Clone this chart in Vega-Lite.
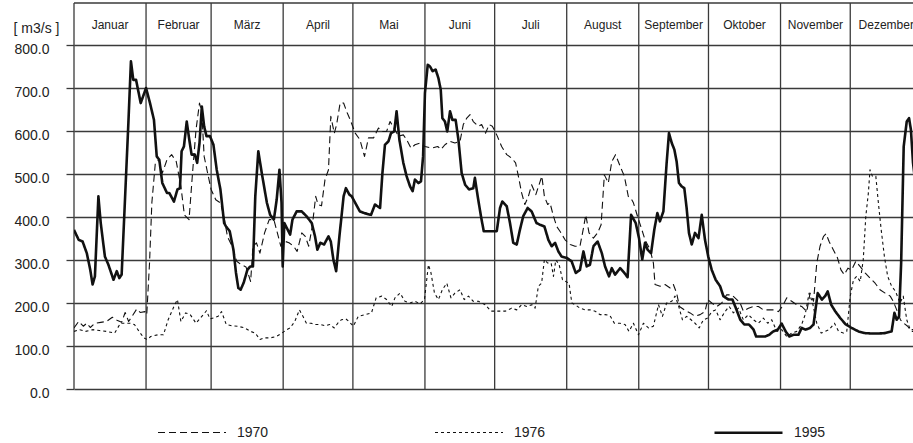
{
"$schema":"https://vega.github.io/schema/vega-lite/v6.json",
"width":839,"height":386,
"autosize":{"type":"none"},
"padding":{"left":74,"top":3,"right":0,"bottom":54},
"background":"white",
"config":{"view":{"stroke":null},"font":"Liberation Sans"},
"resolve":{"axis":{"y":"independent","x":"independent"}},
"layer":[
{"data":{"values":[{"d":0},{"d":31},{"d":59},{"d":90},{"d":120},{"d":151},{"d":181},{"d":212},{"d":243},{"d":273},{"d":304},{"d":334}]},
 "mark":{"type":"rule","color":"#3a3a3a","strokeWidth":1.3},
 "encoding":{"x":{"field":"d","type":"quantitative","scale":{"domain":[0,361],"nice":false,"zero":false},"axis":null}}},
{"data":{"values":[{"v":897.7}]},
 "mark":{"type":"rule","color":"#3a3a3a","strokeWidth":1.3},
 "encoding":{"y":{"field":"v","type":"quantitative","scale":{"domain":[0,897.7],"nice":false},"axis":null}}},
{"data":{"values":[{"m":"Januar","d":15.5},{"m":"Februar","d":45},{"m":"März","d":74.5},{"m":"April","d":105},{"m":"Mai","d":135.5},{"m":"Juni","d":166},{"m":"Juli","d":196.5},{"m":"August","d":227.5},{"m":"September","d":258},{"m":"Oktober","d":288.5},{"m":"November","d":319},{"m":"Dezember","d":349.5}]},
 "mark":{"type":"text","fontSize":12,"color":"#222","font":"Liberation Sans","baseline":"middle","align":"center"},
 "encoding":{"x":{"field":"d","type":"quantitative","scale":{"domain":[0,361],"nice":false,"zero":false},"axis":null},
  "y":{"datum":846.5,"type":"quantitative","scale":{"domain":[0,897.7],"nice":false},"axis":null},
  "text":{"field":"m","type":"nominal"}}},
{"data":{"values":[
{"s":"1995","d":0,"v":370},{"s":"1995","d":2,"v":347},{"s":"1995","d":3.7,"v":343},{"s":"1995","d":5.5,"v":316},{"s":"1995","d":7,"v":277},{"s":"1995","d":8,"v":243},{"s":"1995","d":9,"v":262},{"s":"1995","d":10.5,"v":448},{"s":"1995","d":11.5,"v":386},{"s":"1995","d":13.3,"v":308},{"s":"1995","d":14.8,"v":289},{"s":"1995","d":17,"v":254},{"s":"1995","d":18.4,"v":274},{"s":"1995","d":19.5,"v":258},{"s":"1995","d":20.5,"v":266},{"s":"1995","d":22,"v":448},{"s":"1995","d":23.4,"v":619},{"s":"1995","d":24.5,"v":762},{"s":"1995","d":25.5,"v":719},{"s":"1995","d":26.7,"v":719},{"s":"1995","d":28.7,"v":665},{"s":"1995","d":31,"v":700},{"s":"1995","d":32.7,"v":665},{"s":"1995","d":34.4,"v":626},{"s":"1995","d":35.6,"v":541},{"s":"1995","d":36.7,"v":533},{"s":"1995","d":38,"v":479},{"s":"1995","d":40,"v":456},{"s":"1995","d":41,"v":456},{"s":"1995","d":43,"v":436},{"s":"1995","d":44.5,"v":464},{"s":"1995","d":45.6,"v":467},{"s":"1995","d":46.3,"v":553},{"s":"1995","d":47.3,"v":564},{"s":"1995","d":48.5,"v":622},{"s":"1995","d":49.6,"v":580},{"s":"1995","d":50.6,"v":545},{"s":"1995","d":52,"v":545},{"s":"1995","d":53,"v":526},{"s":"1995","d":54,"v":572},{"s":"1995","d":55,"v":657},{"s":"1995","d":56,"v":611},{"s":"1995","d":57,"v":588},{"s":"1995","d":58.5,"v":588},{"s":"1995","d":60,"v":568},{"s":"1995","d":61.4,"v":510},{"s":"1995","d":63,"v":464},{"s":"1995","d":64.6,"v":386},{"s":"1995","d":65.4,"v":378},{"s":"1995","d":67,"v":367},{"s":"1995","d":68.6,"v":324},{"s":"1995","d":69.7,"v":270},{"s":"1995","d":70.7,"v":235},{"s":"1995","d":71.7,"v":231},{"s":"1995","d":73,"v":247},{"s":"1995","d":74.6,"v":277},{"s":"1995","d":75.8,"v":285},{"s":"1995","d":77,"v":285},{"s":"1995","d":78,"v":448},{"s":"1995","d":79.3,"v":553},{"s":"1995","d":80.8,"v":502},{"s":"1995","d":83,"v":433},{"s":"1995","d":84.4,"v":405},{"s":"1995","d":86,"v":394},{"s":"1995","d":87.2,"v":440},{"s":"1995","d":88.4,"v":510},{"s":"1995","d":89.3,"v":433},{"s":"1995","d":89.8,"v":285},{"s":"1995","d":90.5,"v":386},{"s":"1995","d":93,"v":359},{"s":"1995","d":94,"v":394},{"s":"1995","d":95.8,"v":413},{"s":"1995","d":98,"v":413},{"s":"1995","d":100,"v":402},{"s":"1995","d":102.3,"v":386},{"s":"1995","d":103.7,"v":355},{"s":"1995","d":104.7,"v":324},{"s":"1995","d":106,"v":340},{"s":"1995","d":107.6,"v":336},{"s":"1995","d":109.5,"v":355},{"s":"1995","d":110.5,"v":343},{"s":"1995","d":111.6,"v":301},{"s":"1995","d":112.8,"v":274},{"s":"1995","d":114.2,"v":355},{"s":"1995","d":116,"v":448},{"s":"1995","d":117,"v":467},{"s":"1995","d":118.5,"v":452},{"s":"1995","d":119.5,"v":448},{"s":"1995","d":121,"v":433},{"s":"1995","d":123,"v":413},{"s":"1995","d":125,"v":409},{"s":"1995","d":127.8,"v":405},{"s":"1995","d":129.5,"v":429},{"s":"1995","d":131.7,"v":421},{"s":"1995","d":132.7,"v":502},{"s":"1995","d":133.8,"v":568},{"s":"1995","d":135.3,"v":576},{"s":"1995","d":136.4,"v":595},{"s":"1995","d":137.8,"v":599},{"s":"1995","d":138.8,"v":646},{"s":"1995","d":140,"v":580},{"s":"1995","d":141.7,"v":526},{"s":"1995","d":143.1,"v":495},{"s":"1995","d":144.6,"v":471},{"s":"1995","d":145.7,"v":460},{"s":"1995","d":146.7,"v":487},{"s":"1995","d":148.2,"v":479},{"s":"1995","d":149.3,"v":483},{"s":"1995","d":150.2,"v":541},{"s":"1995","d":151,"v":688},{"s":"1995","d":152.2,"v":754},{"s":"1995","d":153.2,"v":750},{"s":"1995","d":154.3,"v":739},{"s":"1995","d":155.6,"v":743},{"s":"1995","d":156.8,"v":723},{"s":"1995","d":157.8,"v":696},{"s":"1995","d":158.5,"v":630},{"s":"1995","d":159.6,"v":622},{"s":"1995","d":160.6,"v":599},{"s":"1995","d":161.8,"v":646},{"s":"1995","d":162.8,"v":626},{"s":"1995","d":164.2,"v":626},{"s":"1995","d":165.4,"v":580},{"s":"1995","d":166.8,"v":502},{"s":"1995","d":168.3,"v":475},{"s":"1995","d":170,"v":464},{"s":"1995","d":171.8,"v":467},{"s":"1995","d":172.5,"v":491},{"s":"1995","d":173.7,"v":448},{"s":"1995","d":175.1,"v":402},{"s":"1995","d":176.3,"v":367},{"s":"1995","d":178.3,"v":367},{"s":"1995","d":181.9,"v":367},{"s":"1995","d":183.3,"v":421},{"s":"1995","d":184.3,"v":436},{"s":"1995","d":186.2,"v":425},{"s":"1995","d":187.6,"v":386},{"s":"1995","d":189,"v":340},{"s":"1995","d":190.5,"v":336},{"s":"1995","d":191.9,"v":371},{"s":"1995","d":193.3,"v":402},{"s":"1995","d":195.2,"v":421},{"s":"1995","d":196.9,"v":413},{"s":"1995","d":199,"v":386},{"s":"1995","d":200.5,"v":382},{"s":"1995","d":202.4,"v":378},{"s":"1995","d":204.1,"v":347},{"s":"1995","d":205.5,"v":332},{"s":"1995","d":207,"v":340},{"s":"1995","d":208.4,"v":320},{"s":"1995","d":209.8,"v":308},{"s":"1995","d":212,"v":305},{"s":"1995","d":214.1,"v":297},{"s":"1995","d":215.9,"v":270},{"s":"1995","d":217.7,"v":277},{"s":"1995","d":219.2,"v":320},{"s":"1995","d":220.6,"v":285},{"s":"1995","d":222,"v":289},{"s":"1995","d":223.5,"v":332},{"s":"1995","d":225.3,"v":343},{"s":"1995","d":227.1,"v":316},{"s":"1995","d":228.5,"v":285},{"s":"1995","d":230.2,"v":262},{"s":"1995","d":231.4,"v":281},{"s":"1995","d":232.8,"v":266},{"s":"1995","d":235,"v":281},{"s":"1995","d":236.8,"v":270},{"s":"1995","d":238.2,"v":260},{"s":"1995","d":239.7,"v":405},{"s":"1995","d":241.7,"v":386},{"s":"1995","d":243.1,"v":351},{"s":"1995","d":244.5,"v":301},{"s":"1995","d":245.7,"v":340},{"s":"1995","d":246.8,"v":324},{"s":"1995","d":248.3,"v":316},{"s":"1995","d":249.7,"v":371},{"s":"1995","d":251,"v":409},{"s":"1995","d":252.1,"v":390},{"s":"1995","d":253.6,"v":413},{"s":"1995","d":255,"v":526},{"s":"1995","d":256,"v":595},{"s":"1995","d":257.2,"v":572},{"s":"1995","d":258.3,"v":557},{"s":"1995","d":259.3,"v":529},{"s":"1995","d":260.3,"v":479},{"s":"1995","d":261.5,"v":471},{"s":"1995","d":262.6,"v":467},{"s":"1995","d":263.6,"v":421},{"s":"1995","d":264.6,"v":363},{"s":"1995","d":265.8,"v":336},{"s":"1995","d":267.2,"v":363},{"s":"1995","d":268.7,"v":351},{"s":"1995","d":270.1,"v":405},{"s":"1995","d":271.5,"v":347},{"s":"1995","d":272.9,"v":308},{"s":"1995","d":274.4,"v":277},{"s":"1995","d":276.1,"v":254},{"s":"1995","d":278,"v":239},{"s":"1995","d":279.4,"v":216},{"s":"1995","d":281.6,"v":208},{"s":"1995","d":283.3,"v":208},{"s":"1995","d":284.8,"v":188},{"s":"1995","d":286.7,"v":161},{"s":"1995","d":288.4,"v":150},{"s":"1995","d":290.4,"v":150},{"s":"1995","d":292.4,"v":138},{"s":"1995","d":293.5,"v":122},{"s":"1995","d":295.2,"v":122},{"s":"1995","d":297.3,"v":122},{"s":"1995","d":299.1,"v":126},{"s":"1995","d":300.9,"v":134},{"s":"1995","d":302.8,"v":138},{"s":"1995","d":304.5,"v":152},{"s":"1995","d":306.2,"v":134},{"s":"1995","d":307.8,"v":122},{"s":"1995","d":309.5,"v":126},{"s":"1995","d":311.7,"v":126},{"s":"1995","d":313.1,"v":142},{"s":"1995","d":314.8,"v":138},{"s":"1995","d":316.7,"v":142},{"s":"1995","d":318.2,"v":150},{"s":"1995","d":320,"v":223},{"s":"1995","d":321.8,"v":208},{"s":"1995","d":323.2,"v":216},{"s":"1995","d":324.3,"v":227},{"s":"1995","d":325.8,"v":196},{"s":"1995","d":327.5,"v":181},{"s":"1995","d":329.7,"v":165},{"s":"1995","d":332.1,"v":150},{"s":"1995","d":334.6,"v":142},{"s":"1995","d":337.5,"v":134},{"s":"1995","d":340.4,"v":130},{"s":"1995","d":343.3,"v":129},{"s":"1995","d":346.1,"v":129},{"s":"1995","d":349,"v":130},{"s":"1995","d":351.8,"v":134},{"s":"1995","d":353,"v":177},{"s":"1995","d":354,"v":161},{"s":"1995","d":355,"v":169},{"s":"1995","d":355.9,"v":293},{"s":"1995","d":357,"v":564},{"s":"1995","d":358.3,"v":622},{"s":"1995","d":359.3,"v":630},{"s":"1995","d":360.1,"v":603},{"s":"1995","d":361,"v":526},{"s":"1995","d":362,"v":480},
{"s":"1970","d":0,"v":142},{"s":"1970","d":2,"v":157},{"s":"1970","d":4,"v":146},{"s":"1970","d":5.5,"v":153},{"s":"1970","d":7,"v":143},{"s":"1970","d":9,"v":153},{"s":"1970","d":11.5,"v":155},{"s":"1970","d":14,"v":157},{"s":"1970","d":16.5,"v":167},{"s":"1970","d":18.5,"v":160},{"s":"1970","d":20.5,"v":155},{"s":"1970","d":22,"v":178},{"s":"1970","d":23.5,"v":157},{"s":"1970","d":25,"v":169},{"s":"1970","d":27,"v":186},{"s":"1970","d":28.5,"v":178},{"s":"1970","d":30.5,"v":180},{"s":"1970","d":31.3,"v":173},{"s":"1970","d":32.5,"v":293},{"s":"1970","d":33.5,"v":433},{"s":"1970","d":35,"v":526},{"s":"1970","d":36.5,"v":533},{"s":"1970","d":38,"v":502},{"s":"1970","d":40,"v":533},{"s":"1970","d":42,"v":545},{"s":"1970","d":44,"v":529},{"s":"1970","d":46,"v":471},{"s":"1970","d":47.5,"v":405},{"s":"1970","d":49.5,"v":394},{"s":"1970","d":51,"v":502},{"s":"1970","d":52.5,"v":603},{"s":"1970","d":54,"v":665},{"s":"1970","d":55,"v":643},{"s":"1970","d":56,"v":541},{"s":"1970","d":57.5,"v":502},{"s":"1970","d":59,"v":464},{"s":"1970","d":61,"v":440},{"s":"1970","d":63,"v":433},{"s":"1970","d":64.5,"v":402},{"s":"1970","d":66,"v":355},{"s":"1970","d":68,"v":332},{"s":"1970","d":70,"v":297},{"s":"1970","d":72,"v":289},{"s":"1970","d":74,"v":284},{"s":"1970","d":76,"v":250},{"s":"1970","d":77,"v":332},{"s":"1970","d":78.5,"v":340},{"s":"1970","d":80,"v":316},{"s":"1970","d":82,"v":363},{"s":"1970","d":84,"v":394},{"s":"1970","d":86,"v":394},{"s":"1970","d":87.5,"v":363},{"s":"1970","d":89,"v":332},{"s":"1970","d":91,"v":343},{"s":"1970","d":92.5,"v":340},{"s":"1970","d":94.5,"v":332},{"s":"1970","d":96,"v":320},{"s":"1970","d":98,"v":363},{"s":"1970","d":99.5,"v":355},{"s":"1970","d":101,"v":332},{"s":"1970","d":102.5,"v":378},{"s":"1970","d":104,"v":448},{"s":"1970","d":105,"v":429},{"s":"1970","d":106.5,"v":426},{"s":"1970","d":108,"v":487},{"s":"1970","d":109.5,"v":510},{"s":"1970","d":110.5,"v":634},{"s":"1970","d":112,"v":595},{"s":"1970","d":113,"v":615},{"s":"1970","d":114.5,"v":665},{"s":"1970","d":116,"v":665},{"s":"1970","d":117.5,"v":643},{"s":"1970","d":119,"v":624},{"s":"1970","d":121,"v":595},{"s":"1970","d":123,"v":580},{"s":"1970","d":125,"v":541},{"s":"1970","d":126.7,"v":584},{"s":"1970","d":128.9,"v":584},{"s":"1970","d":131,"v":607},{"s":"1970","d":132.7,"v":599},{"s":"1970","d":134.5,"v":599},{"s":"1970","d":136,"v":622},{"s":"1970","d":138.1,"v":603},{"s":"1970","d":139.6,"v":588},{"s":"1970","d":141.7,"v":591},{"s":"1970","d":143.1,"v":580},{"s":"1970","d":145,"v":560},{"s":"1970","d":146.7,"v":568},{"s":"1970","d":148.9,"v":572},{"s":"1970","d":151,"v":564},{"s":"1970","d":153.9,"v":560},{"s":"1970","d":156.5,"v":564},{"s":"1970","d":157.9,"v":557},{"s":"1970","d":159.6,"v":568},{"s":"1970","d":161.8,"v":576},{"s":"1970","d":163.9,"v":572},{"s":"1970","d":166.1,"v":576},{"s":"1970","d":167.5,"v":615},{"s":"1970","d":169,"v":630},{"s":"1970","d":170.4,"v":638},{"s":"1970","d":171.8,"v":622},{"s":"1970","d":174,"v":611},{"s":"1970","d":175.4,"v":615},{"s":"1970","d":177.1,"v":595},{"s":"1970","d":178.6,"v":615},{"s":"1970","d":180,"v":611},{"s":"1970","d":181.9,"v":591},{"s":"1970","d":184,"v":564},{"s":"1970","d":186.2,"v":545},{"s":"1970","d":188.3,"v":537},{"s":"1970","d":190,"v":526},{"s":"1970","d":191.2,"v":495},{"s":"1970","d":192.6,"v":456},{"s":"1970","d":194,"v":429},{"s":"1970","d":195.5,"v":448},{"s":"1970","d":196.9,"v":475},{"s":"1970","d":198.7,"v":452},{"s":"1970","d":200.1,"v":475},{"s":"1970","d":201.3,"v":495},{"s":"1970","d":202.4,"v":448},{"s":"1970","d":203.8,"v":429},{"s":"1970","d":204.8,"v":433},{"s":"1970","d":206.3,"v":402},{"s":"1970","d":207.7,"v":378},{"s":"1970","d":209.1,"v":367},{"s":"1970","d":211.3,"v":347},{"s":"1970","d":213.5,"v":336},{"s":"1970","d":215.6,"v":332},{"s":"1970","d":217.7,"v":332},{"s":"1970","d":219.2,"v":374},{"s":"1970","d":220.2,"v":405},{"s":"1970","d":221.6,"v":363},{"s":"1970","d":223.5,"v":351},{"s":"1970","d":225.3,"v":363},{"s":"1970","d":226.8,"v":382},{"s":"1970","d":228.2,"v":498},{"s":"1970","d":229.9,"v":479},{"s":"1970","d":231.4,"v":529},{"s":"1970","d":233,"v":545},{"s":"1970","d":235,"v":518},{"s":"1970","d":236.8,"v":495},{"s":"1970","d":238.5,"v":448},{"s":"1970","d":240,"v":440},{"s":"1970","d":240.7,"v":433},{"s":"1970","d":242.9,"v":394},{"s":"1970","d":244.3,"v":371},{"s":"1970","d":245.7,"v":347},{"s":"1970","d":247.9,"v":324},{"s":"1970","d":249.3,"v":293},{"s":"1970","d":250,"v":243},{"s":"1970","d":252.2,"v":239},{"s":"1970","d":254.3,"v":243},{"s":"1970","d":256.5,"v":235},{"s":"1970","d":257.9,"v":243},{"s":"1970","d":259.3,"v":223},{"s":"1970","d":260.5,"v":192},{"s":"1970","d":262.6,"v":184},{"s":"1970","d":265.1,"v":177},{"s":"1970","d":267.2,"v":169},{"s":"1970","d":269.4,"v":173},{"s":"1970","d":271.5,"v":180},{"s":"1970","d":272.7,"v":208},{"s":"1970","d":274.4,"v":200},{"s":"1970","d":276.6,"v":192},{"s":"1970","d":278.7,"v":200},{"s":"1970","d":280.8,"v":219},{"s":"1970","d":283,"v":219},{"s":"1970","d":285.2,"v":208},{"s":"1970","d":286.6,"v":200},{"s":"1970","d":288,"v":181},{"s":"1970","d":290.2,"v":188},{"s":"1970","d":292.3,"v":192},{"s":"1970","d":294.5,"v":192},{"s":"1970","d":296.6,"v":184},{"s":"1970","d":298.8,"v":184},{"s":"1970","d":301,"v":184},{"s":"1970","d":303.1,"v":180},{"s":"1970","d":304.8,"v":192},{"s":"1970","d":306.7,"v":212},{"s":"1970","d":308.8,"v":204},{"s":"1970","d":311,"v":196},{"s":"1970","d":313.1,"v":192},{"s":"1970","d":315.3,"v":180},{"s":"1970","d":316.7,"v":223},{"s":"1970","d":318.2,"v":204},{"s":"1970","d":319.6,"v":293},{"s":"1970","d":321,"v":332},{"s":"1970","d":322.5,"v":355},{"s":"1970","d":323.6,"v":361},{"s":"1970","d":324.9,"v":343},{"s":"1970","d":326.7,"v":324},{"s":"1970","d":328.5,"v":305},{"s":"1970","d":330,"v":277},{"s":"1970","d":331.4,"v":266},{"s":"1970","d":333,"v":281},{"s":"1970","d":334.6,"v":277},{"s":"1970","d":336.4,"v":297},{"s":"1970","d":338.2,"v":285},{"s":"1970","d":340.4,"v":270},{"s":"1970","d":342.5,"v":258},{"s":"1970","d":344.7,"v":246},{"s":"1970","d":346.8,"v":231},{"s":"1970","d":349,"v":223},{"s":"1970","d":351.2,"v":216},{"s":"1970","d":352.5,"v":204},{"s":"1970","d":354,"v":184},{"s":"1970","d":355.6,"v":161},{"s":"1970","d":357,"v":153},{"s":"1970","d":358.7,"v":146},{"s":"1970","d":360.3,"v":134},{"s":"1970","d":362,"v":134},
{"s":"1976","d":0,"v":134},{"s":"1976","d":2.5,"v":138},{"s":"1976","d":5,"v":134},{"s":"1976","d":8,"v":138},{"s":"1976","d":11,"v":136},{"s":"1976","d":14,"v":134},{"s":"1976","d":17.5,"v":130},{"s":"1976","d":20,"v":153},{"s":"1976","d":24,"v":153},{"s":"1976","d":26,"v":150},{"s":"1976","d":28,"v":134},{"s":"1976","d":30,"v":119},{"s":"1976","d":31.5,"v":115},{"s":"1976","d":33,"v":122},{"s":"1976","d":36,"v":126},{"s":"1976","d":38.5,"v":126},{"s":"1976","d":40.5,"v":161},{"s":"1976","d":43,"v":192},{"s":"1976","d":44.5,"v":208},{"s":"1976","d":46,"v":157},{"s":"1976","d":48,"v":177},{"s":"1976","d":50,"v":173},{"s":"1976","d":52.5,"v":153},{"s":"1976","d":55,"v":169},{"s":"1976","d":57,"v":182},{"s":"1976","d":58.5,"v":163},{"s":"1976","d":60,"v":165},{"s":"1976","d":62,"v":169},{"s":"1976","d":63.5,"v":180},{"s":"1976","d":65.5,"v":150},{"s":"1976","d":68,"v":147},{"s":"1976","d":70.5,"v":146},{"s":"1976","d":73.5,"v":142},{"s":"1976","d":76,"v":134},{"s":"1976","d":78,"v":130},{"s":"1976","d":80,"v":115},{"s":"1976","d":82,"v":119},{"s":"1976","d":84.5,"v":119},{"s":"1976","d":87,"v":122},{"s":"1976","d":89.5,"v":130},{"s":"1976","d":91.5,"v":138},{"s":"1976","d":93,"v":142},{"s":"1976","d":95,"v":157},{"s":"1976","d":97,"v":184},{"s":"1976","d":98.5,"v":169},{"s":"1976","d":100,"v":153},{"s":"1976","d":102,"v":153},{"s":"1976","d":104,"v":150},{"s":"1976","d":106,"v":150},{"s":"1976","d":108,"v":147},{"s":"1976","d":110,"v":150},{"s":"1976","d":112,"v":142},{"s":"1976","d":113.5,"v":153},{"s":"1976","d":115,"v":161},{"s":"1976","d":117,"v":163},{"s":"1976","d":118.3,"v":157},{"s":"1976","d":120.2,"v":146},{"s":"1976","d":122.3,"v":169},{"s":"1976","d":125.2,"v":173},{"s":"1976","d":128,"v":177},{"s":"1976","d":130,"v":212},{"s":"1976","d":132.4,"v":216},{"s":"1976","d":134.5,"v":208},{"s":"1976","d":136.7,"v":192},{"s":"1976","d":138.1,"v":212},{"s":"1976","d":140.3,"v":223},{"s":"1976","d":142.4,"v":204},{"s":"1976","d":144.6,"v":200},{"s":"1976","d":146.7,"v":204},{"s":"1976","d":148.9,"v":198},{"s":"1976","d":150.8,"v":208},{"s":"1976","d":152.5,"v":289},{"s":"1976","d":153.6,"v":270},{"s":"1976","d":155.1,"v":223},{"s":"1976","d":156.8,"v":208},{"s":"1976","d":158.5,"v":231},{"s":"1976","d":160.4,"v":246},{"s":"1976","d":162.2,"v":212},{"s":"1976","d":163.9,"v":223},{"s":"1976","d":166.1,"v":231},{"s":"1976","d":167.9,"v":208},{"s":"1976","d":169.7,"v":216},{"s":"1976","d":171.8,"v":204},{"s":"1976","d":174,"v":204},{"s":"1976","d":176.9,"v":196},{"s":"1976","d":179.4,"v":181},{"s":"1976","d":182.6,"v":181},{"s":"1976","d":185.5,"v":181},{"s":"1976","d":188.3,"v":188},{"s":"1976","d":190.5,"v":184},{"s":"1976","d":192.6,"v":196},{"s":"1976","d":194.8,"v":192},{"s":"1976","d":197,"v":196},{"s":"1976","d":198.4,"v":188},{"s":"1976","d":199.8,"v":239},{"s":"1976","d":201.2,"v":246},{"s":"1976","d":202.4,"v":301},{"s":"1976","d":203.8,"v":293},{"s":"1976","d":205.3,"v":293},{"s":"1976","d":206.3,"v":262},{"s":"1976","d":207.3,"v":300},{"s":"1976","d":208.7,"v":290},{"s":"1976","d":210.2,"v":254},{"s":"1976","d":211.6,"v":250},{"s":"1976","d":213,"v":246},{"s":"1976","d":214.2,"v":200},{"s":"1976","d":215.6,"v":196},{"s":"1976","d":217.7,"v":188},{"s":"1976","d":219.9,"v":184},{"s":"1976","d":222,"v":184},{"s":"1976","d":224.2,"v":181},{"s":"1976","d":226.3,"v":173},{"s":"1976","d":228.5,"v":173},{"s":"1976","d":230.6,"v":171},{"s":"1976","d":232.5,"v":153},{"s":"1976","d":234.9,"v":153},{"s":"1976","d":237.1,"v":150},{"s":"1976","d":238.8,"v":134},{"s":"1976","d":240.7,"v":153},{"s":"1976","d":242.9,"v":126},{"s":"1976","d":245,"v":153},{"s":"1976","d":247.2,"v":142},{"s":"1976","d":249.3,"v":146},{"s":"1976","d":251.5,"v":196},{"s":"1976","d":253.2,"v":169},{"s":"1976","d":255,"v":200},{"s":"1976","d":257.2,"v":204},{"s":"1976","d":258.6,"v":216},{"s":"1976","d":260,"v":196},{"s":"1976","d":261.8,"v":161},{"s":"1976","d":263.6,"v":169},{"s":"1976","d":265.5,"v":161},{"s":"1976","d":267.2,"v":153},{"s":"1976","d":269,"v":142},{"s":"1976","d":270.8,"v":161},{"s":"1976","d":272.7,"v":165},{"s":"1976","d":274.4,"v":180},{"s":"1976","d":276.1,"v":184},{"s":"1976","d":278,"v":161},{"s":"1976","d":280.1,"v":180},{"s":"1976","d":281.9,"v":192},{"s":"1976","d":283.7,"v":177},{"s":"1976","d":285.9,"v":188},{"s":"1976","d":288,"v":161},{"s":"1976","d":290.2,"v":173},{"s":"1976","d":292.3,"v":161},{"s":"1976","d":294.5,"v":153},{"s":"1976","d":296.6,"v":165},{"s":"1976","d":298.5,"v":153},{"s":"1976","d":300.2,"v":161},{"s":"1976","d":302.4,"v":134},{"s":"1976","d":304.5,"v":138},{"s":"1976","d":306.7,"v":122},{"s":"1976","d":308.8,"v":130},{"s":"1976","d":311,"v":134},{"s":"1976","d":313.1,"v":150},{"s":"1976","d":314.6,"v":173},{"s":"1976","d":316.3,"v":223},{"s":"1976","d":317.8,"v":200},{"s":"1976","d":319.6,"v":153},{"s":"1976","d":321.5,"v":130},{"s":"1976","d":323.2,"v":134},{"s":"1976","d":324.9,"v":138},{"s":"1976","d":327.2,"v":153},{"s":"1976","d":329,"v":134},{"s":"1976","d":331.1,"v":130},{"s":"1976","d":332.5,"v":134},{"s":"1976","d":334,"v":216},{"s":"1976","d":335.4,"v":254},{"s":"1976","d":336.8,"v":262},{"s":"1976","d":338.3,"v":250},{"s":"1976","d":339.6,"v":301},{"s":"1976","d":340.7,"v":402},{"s":"1976","d":341.8,"v":456},{"s":"1976","d":342.5,"v":510},{"s":"1976","d":343.5,"v":495},{"s":"1976","d":345,"v":495},{"s":"1976","d":346.1,"v":433},{"s":"1976","d":347.3,"v":371},{"s":"1976","d":348.7,"v":308},{"s":"1976","d":350.1,"v":262},{"s":"1976","d":351.8,"v":239},{"s":"1976","d":353.5,"v":227},{"s":"1976","d":355.4,"v":200},{"s":"1976","d":356.8,"v":216},{"s":"1976","d":358.3,"v":161},{"s":"1976","d":359.8,"v":138},{"s":"1976","d":362,"v":138}
]},
 "mark":{"type":"line","clip":true,"color":"#111","strokeJoin":"round"},
 "encoding":{
  "x":{"field":"d","type":"quantitative","scale":{"domain":[0,361],"nice":false,"zero":false},"axis":null},
  "y":{"field":"v","type":"quantitative","scale":{"domain":[0,897.7],"nice":false},
   "axis":{"values":[0,100,200,300,400,500,600,700,800],"format":".1f","grid":true,"gridColor":"#3a3a3a","gridWidth":1.3,"domain":false,"ticks":true,"tickSize":8,"tickColor":"#3a3a3a","tickWidth":1.3,"labelFontSize":14,"labelColor":"#222","labelPadding":17,"labelOffset":4,"labelFont":"Liberation Sans","title":"[ m3/s ]","titleAngle":0,"titleFontSize":14,"titleFontWeight":"normal","titleColor":"#222","titleFont":"Liberation Sans","titleX":-38,"titleY":25,"titleAlign":"center","titleBaseline":"middle"}},
  "strokeDash":{"field":"s","type":"ordinal","scale":{"type":"ordinal","domain":["1970","1976","1995"],"range":[[7,4],[3,3],[1,0]]},
   "legend":{"orient":"none","legendX":83,"legendY":394,"direction":"horizontal","title":null,"symbolType":"stroke","symbolSize":4624,"symbolStrokeColor":"#111","labelFontSize":14,"labelColor":"#222","labelFont":"Liberation Sans","labelOffset":10,"columnPadding":163,"padding":0}},
  "strokeWidth":{"field":"s","type":"ordinal","scale":{"type":"ordinal","domain":["1970","1976","1995"],"range":[1.1,1.1,2.6]},
   "legend":{"orient":"none","legendX":83,"legendY":394,"direction":"horizontal","title":null,"symbolType":"stroke","symbolSize":4624,"symbolStrokeColor":"#111","labelFontSize":14,"labelColor":"#222","labelFont":"Liberation Sans","labelOffset":10,"columnPadding":163,"padding":0}}
 }}
]
}
